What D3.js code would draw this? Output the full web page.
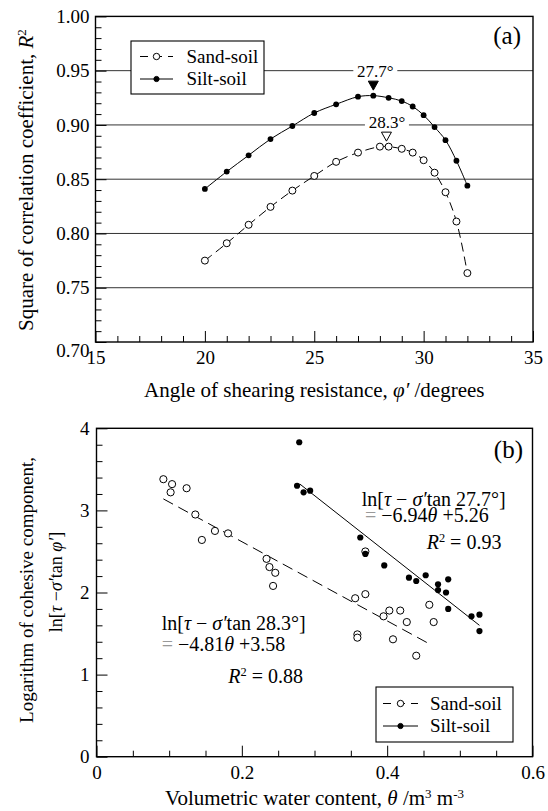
<!DOCTYPE html>
<html>
<head>
<meta charset="utf-8">
<script src="https://cdn.jsdelivr.net/npm/d3@7"></script>
<style>
  body { margin: 0; background: #fff; }
  svg { display: block; }
  text { font-family: 'Liberation Serif', 'Times New Roman', serif; fill: #000; }
</style>
</head>
<body>
<div id="root"></div>
<script>
// (a) square of correlation coefficient vs angle of shearing resistance
const phiSilt = [20, 21, 22, 23, 24, 25, 26, 27, 27.7, 28.4, 29, 29.5, 30, 30.5, 31, 31.5, 32]
const r2Silt = [0.841, 0.857, 0.872, 0.887, 0.899, 0.911, 0.919, 0.926, 0.927, 0.925, 0.922, 0.917, 0.909, 0.898, 0.886, 0.867, 0.844]
const phiSand = [20, 21, 22, 23, 24, 25, 26, 27, 28, 28.4, 29, 29.5, 30, 30.5, 31, 31.5, 32]
const r2Sand = [0.775, 0.791, 0.808, 0.8245, 0.8395, 0.853, 0.866, 0.8745, 0.880, 0.880, 0.878, 0.8745, 0.8675, 0.856, 0.838, 0.811, 0.7635]
const peakPhi = [27.7, 28.3] // silt, sand
const peakR2 = [0.927, 0.880]
const peakLabels = ['27.7°', '28.3°']
const peakLabelR2 = [0.95, 0.90]

// (b) ln of cohesive component vs volumetric water content
const thetaSand = [0.092, 0.104, 0.102, 0.124, 0.136, 0.145, 0.163, 0.181, 0.234, 0.238, 0.246, 0.243, 0.356, 0.370, 0.370, 0.458, 0.395, 0.403, 0.418, 0.427, 0.464, 0.359, 0.359, 0.408, 0.440]
const lnSand = [3.38, 3.32, 3.22, 3.27, 2.95, 2.64, 2.75, 2.72, 2.41, 2.31, 2.24, 2.08, 1.93, 1.98, 2.50, 1.85, 1.71, 1.78, 1.78, 1.64, 1.64, 1.49, 1.45, 1.43, 1.23]
const thetaSilt = [0.279, 0.276, 0.285, 0.294, 0.363, 0.370, 0.396, 0.430, 0.440, 0.453, 0.470, 0.470, 0.481, 0.484, 0.484, 0.516, 0.527, 0.527]
const lnSilt = [3.83, 3.30, 3.22, 3.24, 2.67, 2.47, 2.33, 2.18, 2.14, 2.21, 2.10, 2.03, 2.00, 2.16, 1.80, 1.71, 1.73, 1.53]
// fitted lines, end points
const fitSandTheta = [0.092, 0.461]
const fitSandLn = [3.14, 1.36]
const fitSiltTheta = [0.280, 0.527]
const fitSiltLn = [3.32, 1.60]

const seriesNames = ['Sand-soil', 'Silt-soil']

const width = 548
const height = 811
const dimsA = { left: 95.5, right: 533, top: 16.4, bottom: 342 }
const dimsB = { left: 96.5, right: 532.5, top: 428.3, bottom: 756.7 }

const svg = d3.select('#root').append('svg')
  .attr('width', width)
  .attr('height', height)

const xA = d3.scaleLinear().domain([15, 35]).range([dimsA.left, dimsA.right])
const yA = d3.scaleLinear().domain([0.70, 1.00]).range([dimsA.bottom, dimsA.top])
const xB = d3.scaleLinear().domain([0, 0.6]).range([dimsB.left, dimsB.right])
const yB = d3.scaleLinear().domain([0, 4]).range([dimsB.bottom, dimsB.top])

// text made of pieces: 'i' = italic, 's' = superscript
function addParts (text, parts) {
  let raised = 0
  parts.forEach(([str, style]) => {
    const ts = text.append('tspan').text(str)
    if (style && style.includes('i')) ts.attr('font-style', 'italic')
    const lift = style && style.includes('s') ? 7 : 0
    if (lift !== raised) { ts.attr('dy', raised - lift); raised = lift }
    if (lift) ts.attr('font-size', '0.62em')
  })
  return text
}

function drawAxes (dims, x, y, o) {
  const g = svg.append('g')
  const bottom = (vals, size, fmt) => g.append('g')
    .attr('transform', `translate(0, ${dims.bottom})`)
    .call(d3.axisBottom(x).tickValues(vals).tickSizeInner(-size).tickSizeOuter(0).tickPadding(9).tickFormat(fmt))
  const left = (vals, size, fmt) => g.append('g')
    .attr('transform', `translate(${dims.left}, 0)`)
    .call(d3.axisLeft(y).tickValues(vals).tickSizeInner(-size).tickSizeOuter(0).tickPadding(o.yPad).tickFormat(fmt))
  bottom(o.xMinor, 6, () => '')
  bottom(o.xMajor, 11, o.xFmt)
  left(o.yMinor, 6, () => '')
  const yl = left(o.yMajor, 11, o.yFmt)
  g.selectAll('.domain').remove()
  g.selectAll('.tick line').attr('stroke', '#000').attr('stroke-width', 1)
  g.selectAll('.tick text')
    .attr('font-size', 19)
    .attr('fill', '#000')
  return yl
}

function frame (dims) {
  svg.append('rect')
    .attr('x', dims.left)
    .attr('y', dims.top)
    .attr('width', dims.right - dims.left)
    .attr('height', dims.bottom - dims.top)
    .attr('fill', 'none')
    .attr('stroke', '#000')
    .attr('stroke-width', 1.4)
}

function legend (x0, y0, w, h, sample) {
  const lg = svg.append('g')
  lg.append('rect')
    .attr('x', x0)
    .attr('y', y0)
    .attr('width', w)
    .attr('height', h)
    .attr('fill', '#fff')
    .attr('stroke', '#000')
    .attr('stroke-width', 1.1)
  seriesNames.forEach((name, i) => {
    const cy = sample.rowY[i]
    lg.append('line')
      .attr('x1', sample.x1).attr('x2', sample.x2)
      .attr('y1', cy).attr('y2', cy)
      .attr('stroke', '#000')
      .attr('stroke-dasharray', i === 0 ? '8,6' : null)
    lg.append('circle')
      .attr('cx', (sample.x1 + sample.x2) / 2)
      .attr('cy', cy)
      .attr('r', i === 0 ? 3.2 : 2.6)
      .attr('fill', i === 0 ? '#fff' : '#000')
      .attr('stroke', '#000')
    lg.append('text')
      .attr('x', sample.tx)
      .attr('y', cy + 6)
      .attr('font-size', 19)
      .text(name)
  })
}

// ---------------- panel (a)
svg.append('g')
  .selectAll('line')
  .data([0.75, 0.80, 0.85, 0.90, 0.95])
  .join('line')
  .attr('x1', dimsA.left).attr('x2', dimsA.right)
  .attr('y1', d => yA(d)).attr('y2', d => yA(d))
  .attr('stroke', '#333')
  .attr('stroke-width', 1)

const yAxisA = drawAxes(dimsA, xA, yA, {
  xMajor: d3.range(15, 36, 5),
  xMinor: d3.range(15, 36, 1).filter(v => v % 5 !== 0),
  yMajor: d3.range(70, 101, 5).map(v => v / 100),
  yMinor: d3.range(70, 101, 1).filter(v => v % 5 !== 0).map(v => v / 100),
  xFmt: d3.format('d'),
  yFmt: d3.format('.2f'),
  yPad: 6
})
// lowest label sits a little lower in the original
yAxisA.selectAll('.tick text').filter(d => d === 0.7).attr('dy', '0.75em')

const sandA = phiSand.map((p, i) => ({ x: p, y: r2Sand[i] }))
const siltA = phiSilt.map((p, i) => ({ x: p, y: r2Silt[i] }))
const lineA = d3.line().x(d => xA(d.x)).y(d => yA(d.y)).curve(d3.curveCatmullRom.alpha(0.5))

svg.append('path')
  .datum(sandA)
  .attr('d', lineA)
  .attr('fill', 'none')
  .attr('stroke', '#000')
  .attr('stroke-width', 1)
  .attr('stroke-dasharray', '9,5')
svg.append('path')
  .datum(siltA)
  .attr('d', lineA)
  .attr('fill', 'none')
  .attr('stroke', '#000')
  .attr('stroke-width', 1)

svg.append('g').selectAll('circle')
  .data(sandA)
  .join('circle')
  .attr('cx', d => xA(d.x))
  .attr('cy', d => yA(d.y))
  .attr('r', 3.5)
  .attr('fill', '#fff')
  .attr('stroke', '#000')
svg.append('g').selectAll('circle')
  .data(siltA)
  .join('circle')
  .attr('cx', d => xA(d.x))
  .attr('cy', d => yA(d.y))
  .attr('r', 2.9)
  .attr('fill', '#000')

// peak markers and labels
peakPhi.forEach((p, i) => {
  const cx = xA(p)
  const tip = yA(peakR2[i]) - 5.5
  svg.append('path')
    .attr('d', `M${cx - 5},${tip - 9}L${cx + 5},${tip - 9}L${cx},${tip}Z`)
    .attr('fill', i === 0 ? '#000' : '#fff')
    .attr('stroke', '#000')
    .attr('stroke-width', 1)
  const ly = yA(peakLabelR2[i]) + (i === 0 ? 0 : -2.5)
  const lx = cx + (i === 0 ? 2 : 0.5)
  svg.append('rect')
    .attr('x', lx - 22).attr('y', ly - 8)
    .attr('width', 44).attr('height', 16)
    .attr('fill', '#fff')
  svg.append('text')
    .attr('x', lx)
    .attr('y', ly + 6)
    .attr('text-anchor', 'middle')
    .attr('font-size', 17)
    .text(peakLabels[i])
})

frame(dimsA)

svg.append('text')
  .attr('x', 521)
  .attr('y', 44)
  .attr('text-anchor', 'end')
  .attr('font-size', 25)
  .text('(a)')

legend(131, 41, 133, 53, { rowY: [56.5, 79], x1: 140, x2: 173, tx: 186.5 })

addParts(svg.append('text')
  .attr('transform', 'translate(33, 180) rotate(-90)')
  .attr('text-anchor', 'middle')
  .attr('font-size', 21), [['Square of correlation coefficient, '], ['R', 'i'], ['2', 's']])

addParts(svg.append('text')
  .attr('x', (dimsA.left + dimsA.right) / 2)
  .attr('y', 397)
  .attr('text-anchor', 'middle')
  .attr('font-size', 21), [['Angle of shearing resistance, '], ['φ′', 'i'], [' /degrees']])

// ---------------- panel (b)
drawAxes(dimsB, xB, yB, {
  xMajor: [0, 0.2, 0.4, 0.6],
  xMinor: d3.range(1, 12).filter(v => v % 4 !== 0).map(v => v * 0.05),
  yMajor: [0, 1, 2, 3, 4],
  yMinor: d3.range(1, 20).filter(v => v % 5 !== 0).map(v => v * 0.2),
  xFmt: d => d === 0 ? '0' : d3.format('.1f')(d),
  yFmt: d3.format('d'),
  yPad: 7
})

const fitLine = d3.line().x(d => xB(d[0])).y(d => yB(d[1]))
svg.append('path')
  .datum(fitSandTheta.map((t, i) => [t, fitSandLn[i]]))
  .attr('d', fitLine)
  .attr('stroke', '#000')
  .attr('stroke-width', 1)
  .attr('stroke-dasharray', '11,6')
svg.append('path')
  .datum(fitSiltTheta.map((t, i) => [t, fitSiltLn[i]]))
  .attr('d', fitLine)
  .attr('stroke', '#000')
  .attr('stroke-width', 1)

svg.append('g').selectAll('circle')
  .data(thetaSand.map((t, i) => [t, lnSand[i]]))
  .join('circle')
  .attr('cx', d => xB(d[0]))
  .attr('cy', d => yB(d[1]))
  .attr('r', 3.6)
  .attr('fill', '#fff')
  .attr('stroke', '#000')
svg.append('g').selectAll('circle')
  .data(thetaSilt.map((t, i) => [t, lnSilt[i]]))
  .join('circle')
  .attr('cx', d => xB(d[0]))
  .attr('cy', d => yB(d[1]))
  .attr('r', 3.1)
  .attr('fill', '#000')

frame(dimsB)

svg.append('text')
  .attr('x', 523)
  .attr('y', 458)
  .attr('text-anchor', 'end')
  .attr('font-size', 25)
  .text('(b)')

// equations
function equation (t, v, parts) {
  return addParts(svg.append('text')
    .attr('x', xB(t))
    .attr('y', yB(v))
    .attr('font-size', 20), parts)
}
equation(0.365, 3.054, [['ln['], ['τ', 'i'], [' − '], ['σ′', 'i'], ['tan 27.7°]']])
equation(0.3695, 2.862, [['= '], ['−6.94'], ['θ', 'i'], [' +5.26']])
equation(0.4544, 2.526, [['R', 'i'], ['2', 's'], [' = 0.93']])
equation(0.0897, 1.543, [['ln['], ['τ', 'i'], [' − '], ['σ′', 'i'], ['tan 28.3°]']])
equation(0.0897, 1.291, [['= '], ['−4.81'], ['θ', 'i'], [' +3.58']])
equation(0.1814, 0.894, [['R', 'i'], ['2', 's'], [' = 0.88']])
svg.selectAll('text tspan').filter(function () { return this.textContent === '= ' }).attr('fill', '#999')

legend(376, 687, 137, 55, { rowY: [703.5, 726], x1: 383, x2: 418, tx: 430 })

addParts(svg.append('text')
  .attr('transform', 'translate(33, 590) rotate(-90)')
  .attr('text-anchor', 'middle')
  .attr('font-size', 19), [['Logarithm of cohesive component,']])
addParts(svg.append('text')
  .attr('transform', 'translate(62, 582) rotate(-90)')
  .attr('text-anchor', 'middle')
  .attr('font-size', 18), [['ln['], ['τ', 'i'], [' −'], ['σ′', 'i'], ['tan '], ['φ′', 'i'], [']']])

addParts(svg.append('text')
  .attr('x', (dimsB.left + dimsB.right) / 2)
  .attr('y', 805)
  .attr('text-anchor', 'middle')
  .attr('font-size', 21), [['Volumetric water content, '], ['θ', 'i'], ['  /m'], ['3', 's'], [' m'], ['-3', 's']])
</script>
</body>
</html>
